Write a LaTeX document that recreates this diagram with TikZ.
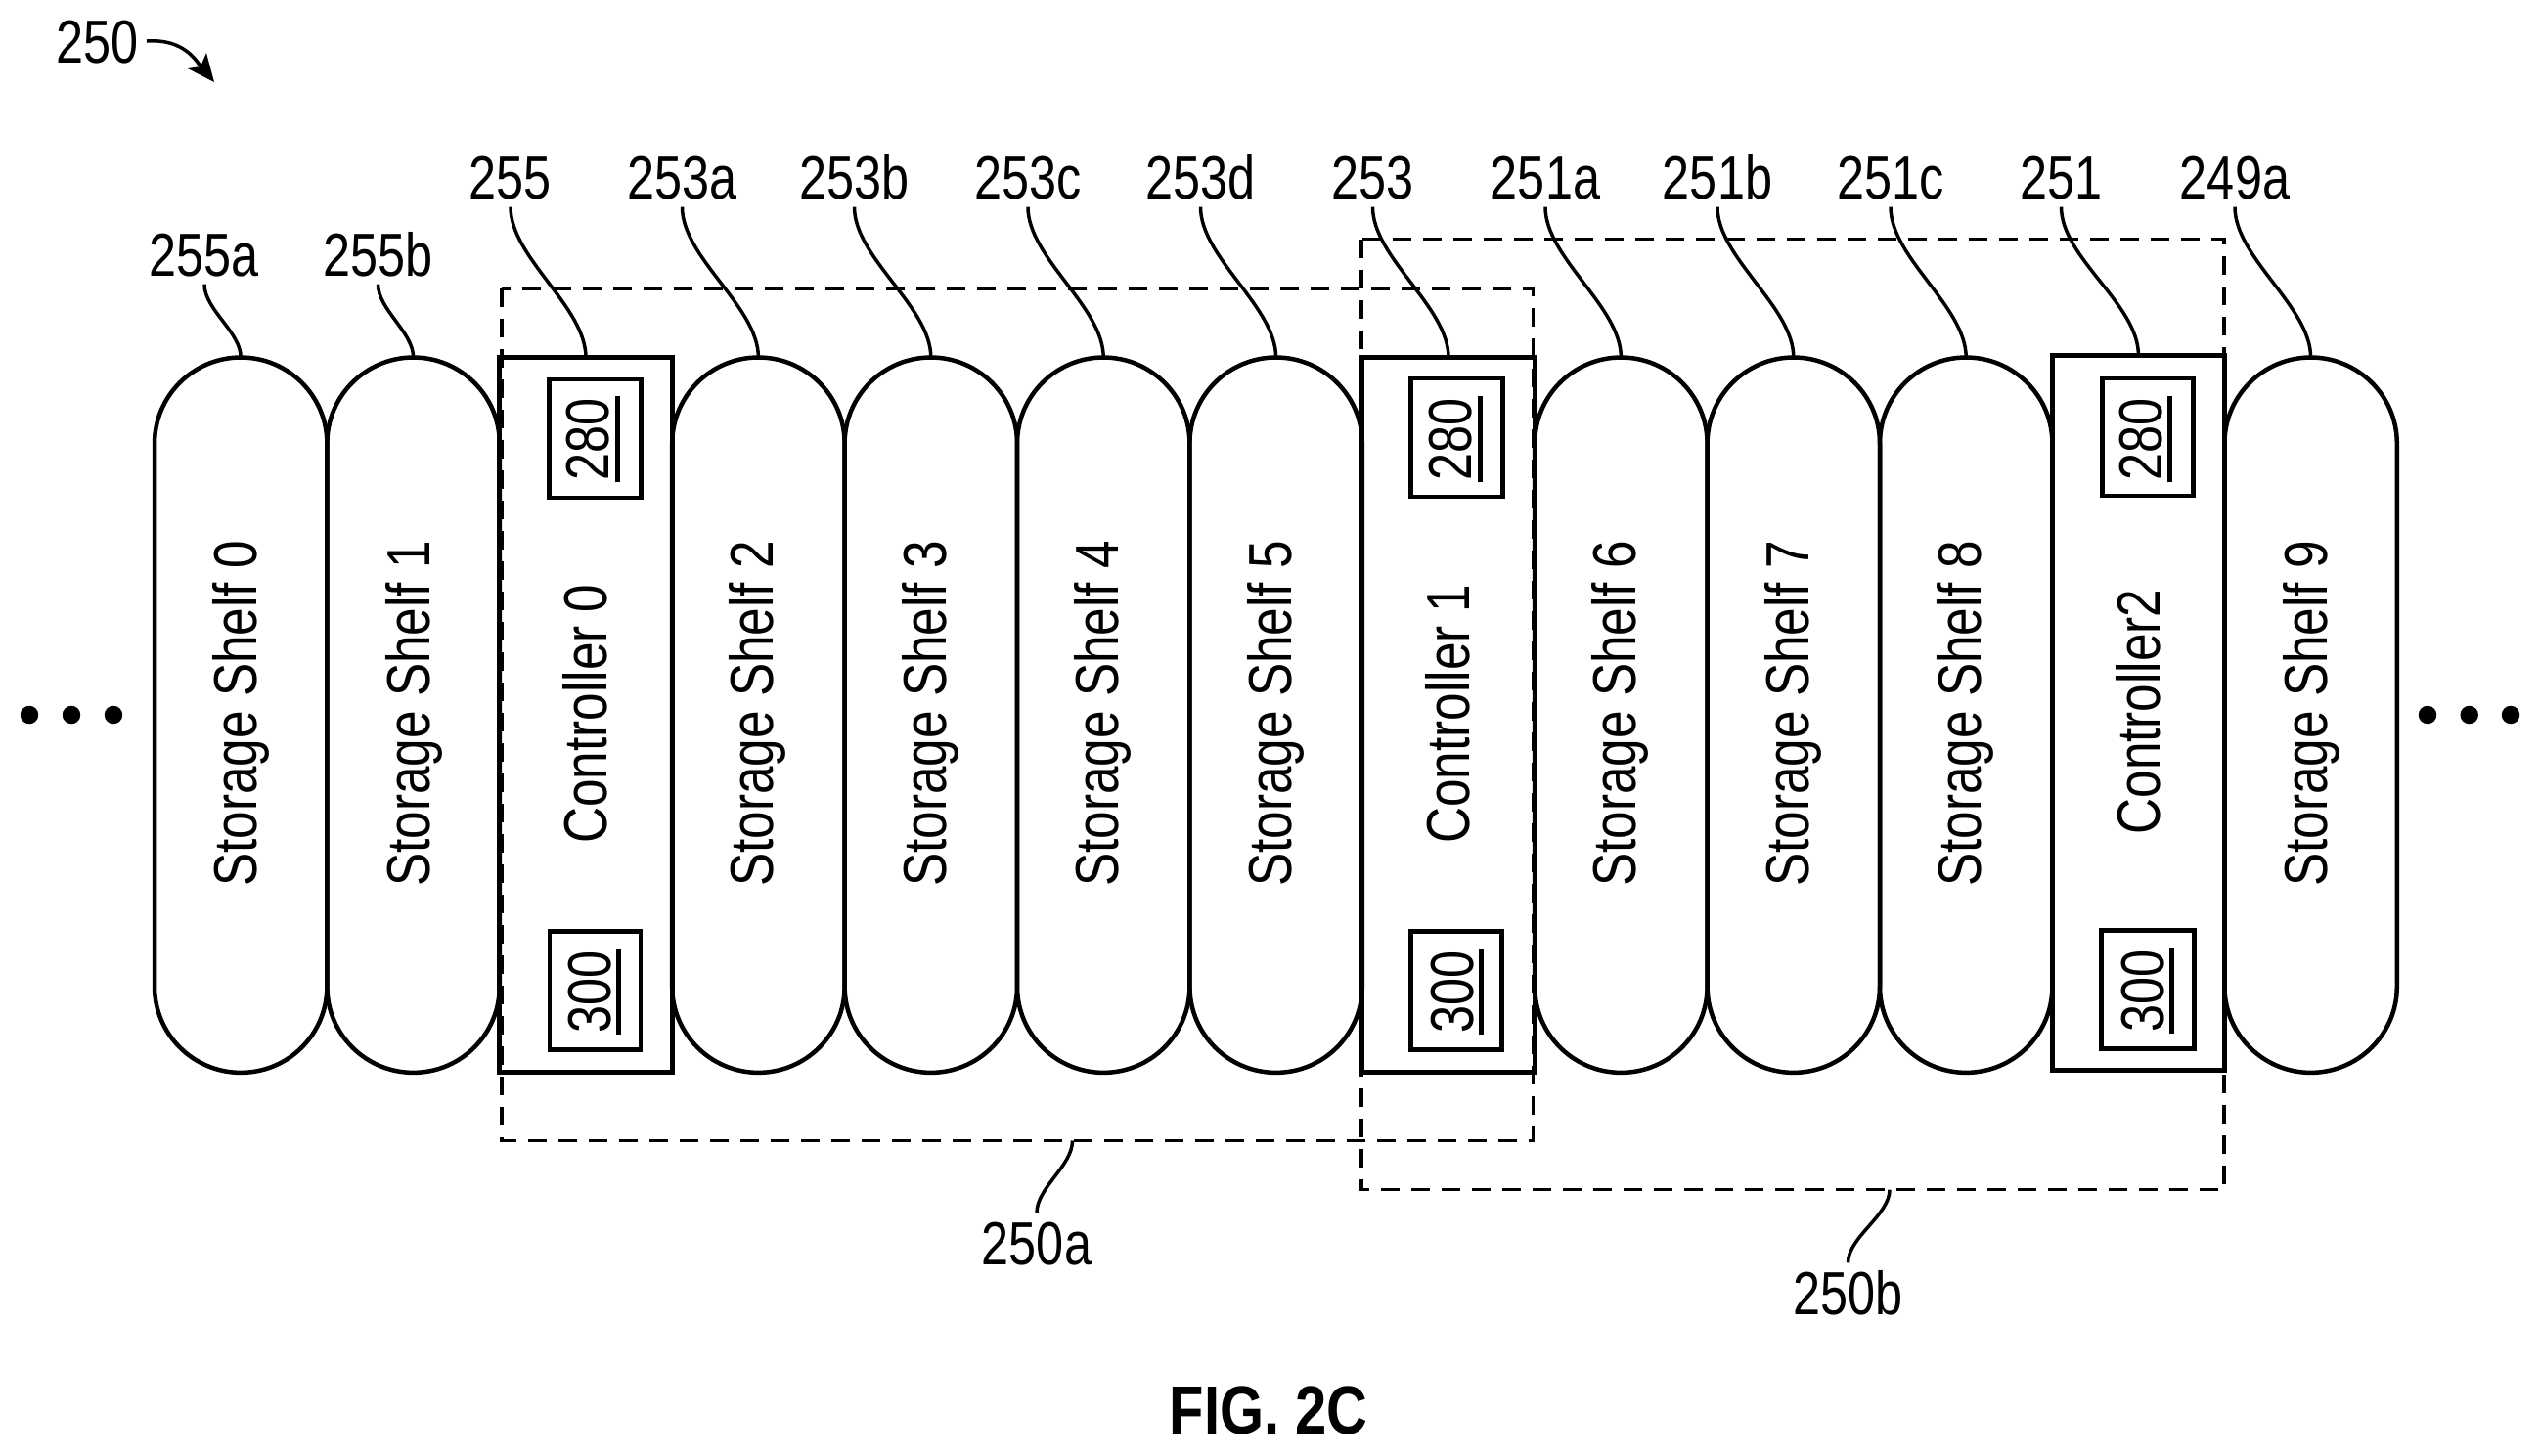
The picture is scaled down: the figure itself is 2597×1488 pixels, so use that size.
\documentclass[tikz,border=0pt]{standalone}
\usepackage{fontspec}
\setmainfont{Liberation Sans}
\newfontfamily\lab[FakeStretch=0.81]{Liberation Sans}
\newfontfamily\vlab[FakeStretch=0.825]{Liberation Sans}
\newfontfamily\figfont[FakeStretch=0.83]{Liberation Sans Bold}
\tikzset{
  x=0.02cm,y=-0.02cm,
  outline/.style={line width=0.09cm,black},
  ctrlbox/.style={draw,line width=0.1cm,inner sep=0pt,outer sep=0pt,minimum width=3.528cm},
  shelfbody/.style={inner sep=0pt,outer sep=0pt,minimum width=3.528cm,minimum height=14.63cm},
  reflabel/.style={font=\lab\fontsize{35.4pt}{36pt}\selectfont,inner xsep=0pt,inner ysep=0.16cm,text height=25.4pt,text depth=0pt},
  vtext/.style={font=\vlab\fontsize{35.4pt}{36pt}\selectfont,rotate=90,inner sep=0pt,text height=25.4pt,text depth=0pt},
  reftext/.style={font=\lab\fontsize{35.4pt}{36pt}\selectfont,rotate=90,inner sep=0pt,text height=25.4pt,text depth=0pt},
  minibox/.style={draw,line width=0.085cm,inner sep=0pt,outer sep=0pt},
  leader/.style={line width=0.07cm},
  ubar/.style={line width=0.1cm},
  dashbox/.style={line width=0.07cm,dash pattern=on 0.38cm off 0.24cm},
  dotnode/.style={circle,fill=black,inner sep=0pt,minimum size=0.37cm},
}
\newcommand{\shelfnode}[4]{%
  \node[shelfbody] (#1) at (#2,731.2) {};
  \draw[outline] ([yshift=-1.76cm]#1.north west) arc[start angle=180,end angle=0,x radius=1.764cm,y radius=1.76cm]
    -- ([yshift=1.76cm]#1.south east) arc[start angle=0,end angle=-180,x radius=1.764cm,y radius=1.76cm] -- cycle;
  \node[vtext] (#1t) at (#3,730) {#4};
}
\newcommand{\miniref}[8]{% name, box centre x, y, w, h, text x, y, text
  \node[minibox,minimum width=#4*0.02cm,minimum height=#5*0.02cm] (#1) at (#2,#3) {};
  \node[reftext] (#1t) at (#6,#7) {#8};
  \draw[ubar] ([xshift=0.16cm,yshift=-0.04cm]#1t.south west) -- ([xshift=0.16cm,yshift=0.04cm]#1t.south east);
}
\newcommand{\longlead}[2]{\draw[leader] (#1.south) .. controls +(0,52) and +(0,-52) .. (#2.north);}
\newcommand{\shortlead}[2]{\draw[leader] (#1.south) .. controls +(0,26) and +(0,-26) .. (#2.north);}
\begin{document}
\begin{tikzpicture}
\useasboundingbox (0,0) rectangle (2597,1488);
% shelves
\shelfnode{s0}{246.2}{240}{Storage Shelf 0}
\shelfnode{s1}{422.6}{417}{Storage Shelf 1}
\shelfnode{s2}{775.4}{768.5}{Storage Shelf 2}
\shelfnode{s3}{951.8}{945}{Storage Shelf 3}
\shelfnode{s4}{1128.2}{1121}{Storage Shelf 4}
\shelfnode{s5}{1304.6}{1298}{Storage Shelf 5}
\shelfnode{s6}{1657.4}{1650.5}{Storage Shelf 6}
\shelfnode{s7}{1833.8}{1827}{Storage Shelf 7}
\shelfnode{s8}{2010.2}{2003}{Storage Shelf 8}
\shelfnode{s9}{2362.6}{2357}{Storage Shelf 9}
% controllers
\node[ctrlbox,minimum height=14.62cm] (c0) at (599,731) {};
\node[ctrlbox,minimum height=14.62cm] (c1) at (1481,731) {};
\node[ctrlbox,minimum height=14.64cm] (c2) at (2186.4,729) {};
\node[vtext] (c0t) at (598,730) {Controller 0};
\node[vtext] (c1t) at (1480,730) {Controller 1};
\node[vtext] (c2t) at (2186.5,728) {Controller2};
% reference boxes
\miniref{a0}{608.5}{448.5}{94}{121}{600.5}{449}{280}
\miniref{a1}{1489.5}{447.5}{94}{121}{1482.5}{449}{280}
\miniref{a2}{2196}{447}{93}{120}{2188}{449}{280}
\miniref{b0}{608.5}{1013}{93}{121}{602}{1014}{300}
\miniref{b1}{1489}{1013}{93}{121}{1484}{1014}{300}
\miniref{b2}{2196}{1012}{95}{121}{2190}{1013}{300}
% dashed groups
\coordinate (da) at (513,295);
\coordinate (db) at (1567.5,1166.5);
\coordinate (dc) at (1392,244.7);
\coordinate (dd) at (2274,1216.7);
\draw[dashbox] (da) rectangle (db);
\draw[dashbox] (dc) rectangle (dd);
% labels
\node[reflabel] (l255a) at (209,260) {255a};
\node[reflabel] (l255b) at (386.5,260) {255b};
\node[reflabel] (l255) at (522,181) {255};
\node[reflabel] (l253a) at (697.5,181) {253a};
\node[reflabel] (l253b) at (873.5,181) {253b};
\node[reflabel] (l253c) at (1051,181) {253c};
\node[reflabel] (l253d) at (1227.5,181) {253d};
\node[reflabel] (l253) at (1403.5,181) {253};
\node[reflabel] (l251a) at (1580,181) {251a};
\node[reflabel] (l251b) at (1756,181) {251b};
\node[reflabel] (l251c) at (1933,181) {251c};
\node[reflabel] (l251) at (2107.5,181) {251};
\node[reflabel] (l249a) at (2285,181) {249a};
\shortlead{l255a}{s0}
\shortlead{l255b}{s1}
\longlead{l255}{c0}
\longlead{l253a}{s2}
\longlead{l253b}{s3}
\longlead{l253c}{s4}
\longlead{l253d}{s5}
\longlead{l253}{c1}
\longlead{l251a}{s6}
\longlead{l251b}{s7}
\longlead{l251c}{s8}
\longlead{l251}{c2}
\longlead{l249a}{s9}
% bottom labels
\node[reflabel] (l250a) at (1060,1271) {250a};
\node[reflabel] (l250b) at (1889.5,1322) {250b};
\coordinate (pa) at (1096.5,1166.5);
\coordinate (pb) at (1932,1216.7);
\draw[leader] (pa) .. controls +(0,26) and +(0,-26) .. (l250a.north);
\draw[leader] (pb) .. controls +(0,26) and +(0,-26) .. (l250b.north);
% top label and arrow
\node[reflabel] (l250) at (100,42) {250};
\coordinate (ast) at (150,42);
\coordinate (amid) at (205,68);
\coordinate (atip) at (219,84);
\coordinate (aw1) at (192,70);
\coordinate (aw2) at (211,54);
\draw[leader] (ast) .. controls (178,40) and (195,52) .. (amid);
\fill (atip) -- (aw1) -- (amid) -- (aw2) -- cycle;
% ellipses
\node[dotnode] (d1) at (30,731) {};
\node[dotnode] (d2) at (73,731) {};
\node[dotnode] (d3) at (116,731) {};
\node[dotnode] (d4) at (2482,731) {};
\node[dotnode] (d5) at (2524.7,731) {};
\node[dotnode] (d6) at (2567,731) {};
% caption
\node[inner sep=0pt,font=\figfont\fontsize{39.7pt}{40pt}\selectfont] (fig) at (1297,1442) {FIG. 2C};
\end{tikzpicture}
\end{document}
